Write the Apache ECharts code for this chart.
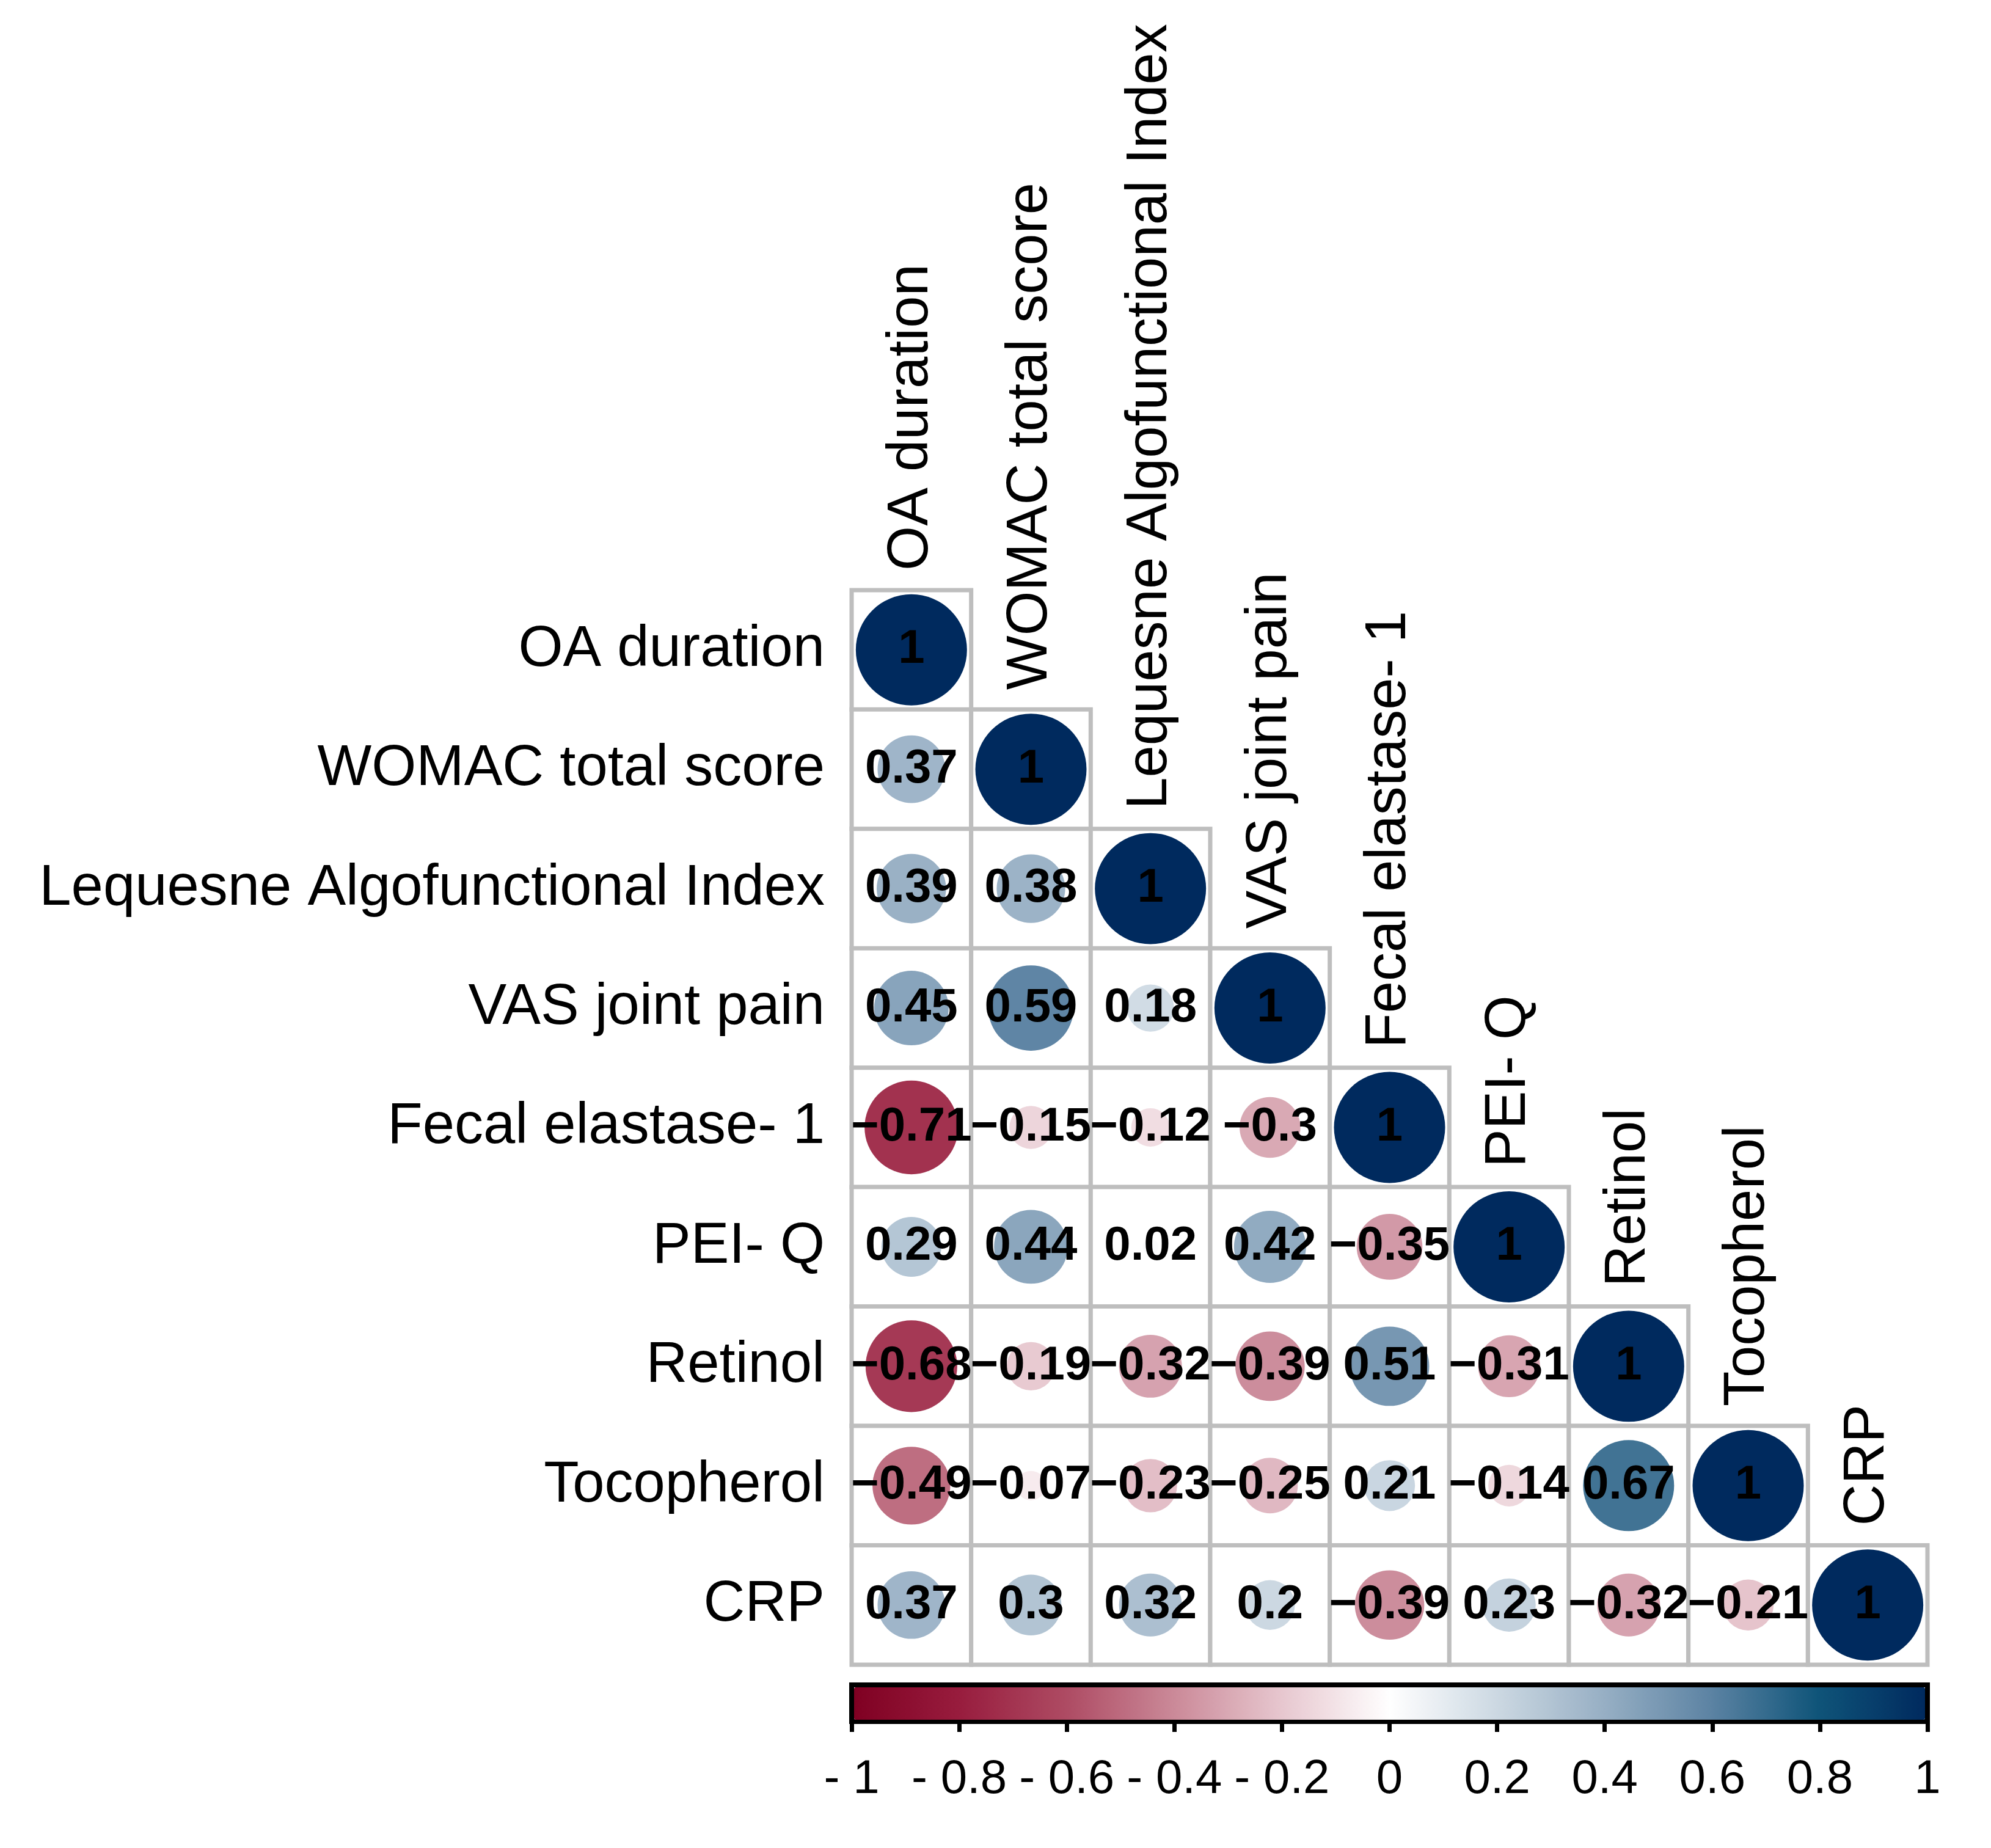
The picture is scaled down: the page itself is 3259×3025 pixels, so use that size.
<!DOCTYPE html>
<html>
<head>
<meta charset="utf-8">
<script src="https://cdn.jsdelivr.net/npm/echarts@6/dist/echarts.min.js"></script>
<style>
html,body{margin:0;padding:0;background:#fff;}
#chart{width:3259px;height:3025px;}
</style>
</head>
<body>
<div id="chart"></div>
<script>
// ---- data ----
const variables = ["OA duration", "WOMAC total score", "Lequesne Algofunctional Index", "VAS joint pain", "Fecal elastase- 1", "PEI- Q", "Retinol", "Tocopherol", "CRP"];
// lower triangle rows (row i has i+1 values: columns 0..i)
const row0 = [1];
const row1 = [0.37, 1];
const row2 = [0.39, 0.38, 1];
const row3 = [0.45, 0.59, 0.18, 1];
const row4 = [-0.71, -0.15, -0.12, -0.3, 1];
const row5 = [0.29, 0.44, 0.02, 0.42, -0.35, 1];
const row6 = [-0.68, -0.19, -0.32, -0.39, 0.51, -0.31, 1];
const row7 = [-0.49, -0.07, -0.23, -0.25, 0.21, -0.14, 0.67, 1];
const row8 = [0.37, 0.3, 0.32, 0.2, -0.39, 0.23, -0.32, -0.21, 1];
const corrRows = [row0, row1, row2, row3, row4, row5, row6, row7, row8];
const colorbarTicks = [-1, -0.8, -0.6, -0.4, -0.2, 0, 0.2, 0.4, 0.6, 0.8, 1];
const colorbarTickLabels = ["- 1", "- 0.8", "- 0.6", "- 0.4", "- 0.2", "0", "0.2", "0.4", "0.6", "0.8", "1"];
const paletteColors = ["#7F0022", "#981D3E", "#AE4C64", "#CB8A99", "#E7C7CF", "#FFFFFF", "#CCD8E2", "#97AFC4", "#5C83A3", "#0F5479", "#002A5E"];

// ---- layout ----
const GL = 1394, GT = 966, GW = 1761, GH = 1759;
const n = variables.length;
const cell = GW / n;
const FONT = "'Liberation Sans', Arial, Helvetica, sans-serif";

const cellData = [], circleData = [], diagData = [];
corrRows.forEach((row, i) => {
  row.forEach((v, j) => {
    cellData.push([j, i]);
    circleData.push([j, i, v]);
  });
  diagData.push({ value: [i, i], name: variables[i] });
});

function fmt(v) {
  const s = String(v);
  return s.replace('-', '\u2212');
}

const chart = echarts.init(document.getElementById('chart'), null, { renderer: 'canvas' });
chart.setOption({
  backgroundColor: '#ffffff',
  animation: false,
  grid: [
    { left: GL, top: GT, width: GW, height: GH, containLabel: false },
    { left: GL, top: 2758, width: GW, height: 60, show: true, borderColor: '#000000', borderWidth: 8, backgroundColor: 'transparent' }
  ],
  xAxis: [
    { gridIndex: 0, type: 'category', data: variables, boundaryGap: true,
      axisLine: { show: false }, axisTick: { show: false }, axisLabel: { show: false }, splitLine: { show: false } },
    { gridIndex: 1, type: 'value', min: -1, max: 1, interval: 0.2, position: 'bottom',
      axisLine: { show: false }, splitLine: { show: false },
      axisTick: { show: true, length: 17, lineStyle: { color: '#000', width: 7 } },
      axisLabel: { show: true, margin: 56, fontSize: 78, fontFamily: FONT, color: '#000',
        formatter: function (v) {
          const k = colorbarTicks.findIndex(t => Math.abs(t - v) < 1e-6);
          return k >= 0 ? colorbarTickLabels[k] : '';
        } } }
  ],
  yAxis: [
    { gridIndex: 0, type: 'category', data: variables, inverse: true, boundaryGap: true,
      axisLine: { show: false }, axisTick: { show: false }, splitLine: { show: false },
      axisLabel: { show: true, interval: 0, margin: 44, fontSize: 94, fontFamily: FONT, color: '#000', align: 'right' } },
    { gridIndex: 1, type: 'value', min: 0, max: 1, show: false }
  ],
  visualMap: {
    type: 'continuous',
    seriesIndex: 1,
    dimension: 2,
    min: -1, max: 1,
    orient: 'horizontal',
    calculable: false,
    hoverLink: false,
    left: GL + 4, top: 2762,
    itemWidth: 53, itemHeight: GW - 8,
    padding: 0,
    text: null,
    showLabel: false,
    inRange: { color: paletteColors }
  },
  series: [
    {
      type: 'scatter', xAxisIndex: 0, yAxisIndex: 0,
      symbol: 'rect', symbolSize: cell,
      data: cellData, silent: true, z: 1,
      itemStyle: { color: '#ffffff', borderColor: '#BEBEBE', borderWidth: 7, opacity: 1 }
    },
    {
      type: 'scatter', xAxisIndex: 0, yAxisIndex: 0,
      symbol: 'circle',
      symbolSize: function (d) { return 0.93 * cell * Math.sqrt(Math.abs(d[2])); },
      data: circleData, z: 2,
      itemStyle: { opacity: 1 },
      label: { show: true, position: 'inside', fontSize: 78, fontWeight: 'bold', fontFamily: FONT, color: '#000', opacity: 1,
        formatter: function (p) { return fmt(p.value[2]); } }
    },
    {
      type: 'scatter', xAxisIndex: 0, yAxisIndex: 0,
      symbol: 'circle', symbolSize: 1, itemStyle: { color: 'rgba(0,0,0,0)', opacity: 1 },
      data: diagData, z: 3, silent: true,
      label: { show: true, position: [0.5, 0.5 - cell / 2 - 32], rotate: 90, align: 'left', verticalAlign: 'middle',
        fontSize: 94, fontFamily: FONT, color: '#000', opacity: 1, formatter: function (p) { return p.name; } }
    }
  ]
});
</script>
</body>
</html>
